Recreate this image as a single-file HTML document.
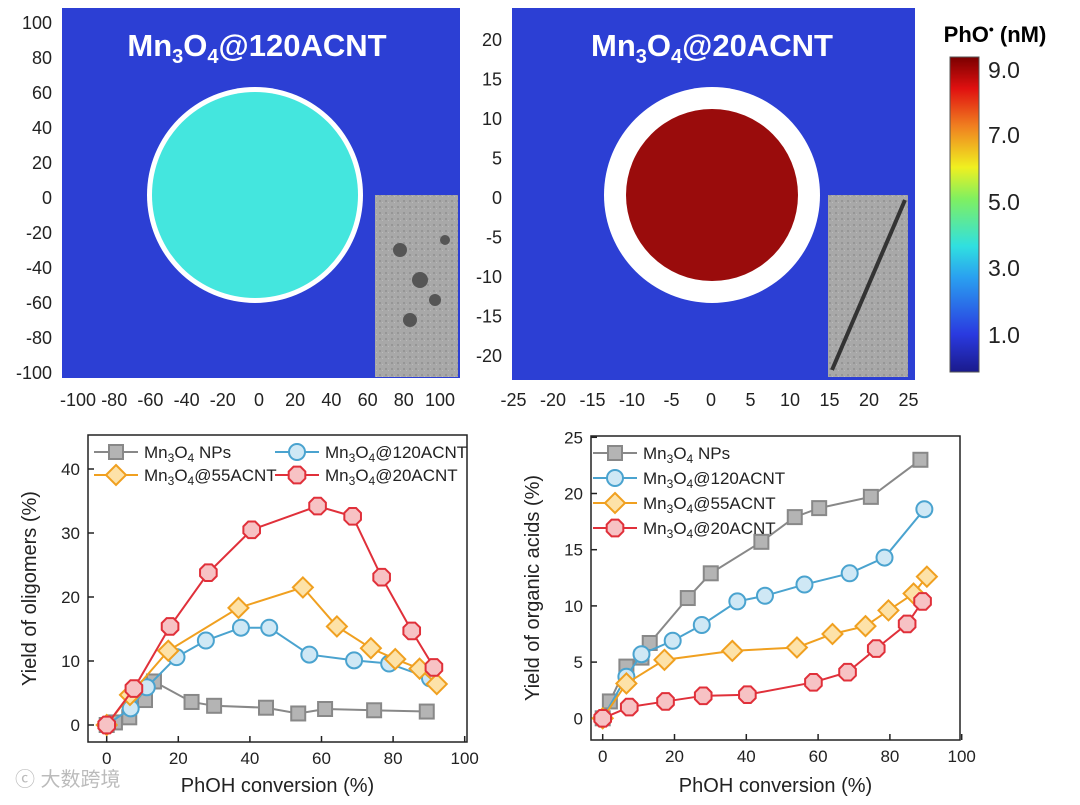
<!DOCTYPE html>
<html><head><meta charset="utf-8">
<style>
body{margin:0;background:#fff;width:1080px;height:800px;overflow:hidden;font-family:"Liberation Sans","Noto Sans CJK SC",sans-serif}
svg text{font-family:"Liberation Sans","Noto Sans CJK SC",sans-serif}
</style></head>
<body>
<svg id="fig" width="1080" height="800" viewBox="0 0 1080 800">
<defs>
<linearGradient id="jet" x1="0" y1="1" x2="0" y2="0">
<stop offset="0" stop-color="#1a1a8c"/><stop offset="0.12" stop-color="#2a3ae0"/><stop offset="0.3" stop-color="#2aa0f0"/><stop offset="0.4" stop-color="#30e0e0"/><stop offset="0.55" stop-color="#80f060"/><stop offset="0.65" stop-color="#f0f020"/><stop offset="0.78" stop-color="#f08020"/><stop offset="0.9" stop-color="#e01010"/><stop offset="1" stop-color="#7a0000"/>
</linearGradient>
<pattern id="tem" width="6" height="6" patternUnits="userSpaceOnUse"><rect width="6" height="6" fill="#a8a8a8"/><rect x="1" y="2" width="2" height="2" fill="#969696"/><rect x="4" y="4" width="1" height="1" fill="#bbb"/></pattern>
</defs>
<g>
<rect x="62" y="8" width="398" height="370" fill="#2c3fd4"/>
<circle cx="255" cy="195" r="108" fill="#fff"/>
<circle cx="255" cy="195" r="103" fill="#44e6de"/>
<rect x="375" y="195" width="83" height="182" fill="url(#tem)"/>
<g fill="#555"><circle cx="400" cy="250" r="7"/><circle cx="420" cy="280" r="8"/><circle cx="410" cy="320" r="7"/><circle cx="435" cy="300" r="6"/><circle cx="445" cy="240" r="5"/></g>
<text x="257" y="56" font-size="31" font-weight="bold" fill="#fff" text-anchor="middle">Mn<tspan font-size="20" dy="7">3</tspan><tspan dy="-7">O</tspan><tspan font-size="20" dy="7">4</tspan><tspan dy="-7">@120ACNT</tspan></text>
</g>
<g>
<rect x="512" y="8" width="403" height="372" fill="#2c3fd4"/>
<circle cx="712" cy="195" r="108" fill="#fff"/>
<circle cx="712" cy="195" r="86" fill="#9a0c0c"/>
<rect x="828" y="195" width="80" height="182" fill="url(#tem)"/>
<line x1="832" y1="370" x2="905" y2="200" stroke="#333" stroke-width="4"/>
<text x="712" y="56" font-size="31" font-weight="bold" fill="#fff" text-anchor="middle">Mn<tspan font-size="20" dy="7">3</tspan><tspan dy="-7">O</tspan><tspan font-size="20" dy="7">4</tspan><tspan dy="-7">@20ACNT</tspan></text>
</g>
<g>
<rect x="950" y="57" width="29" height="315" fill="url(#jet)" stroke="#555" stroke-width="1"/>
<text x="995" y="42" font-size="22" font-weight="bold" text-anchor="middle">PhO<tspan font-size="14" dy="-8">•</tspan><tspan dy="8"> (nM)</tspan></text>
<g font-size="23" fill="#222">
<text x="988" y="78">9.0</text><text x="988" y="143">7.0</text><text x="988" y="210">5.0</text><text x="988" y="276">3.0</text><text x="988" y="343">1.0</text>
</g>
</g>
<g id="topaxes" font-size="18" fill="#222"></g>
<g id="c1"></g>
<g id="c2"></g>
<text x="15" y="786" font-size="20" fill="#bbb">ⓒ 大数跨境</text>
</svg>
<script>
const leftX_NP=[0,2.3,6.3,10.7,13.2,23.7,30,44.5,53.5,61,74.7,89.4];
const leftY_NP=[0,0.4,1.2,3.9,6.8,3.6,3.0,2.7,1.8,2.5,2.3,2.1];
const leftX_120=[0,6.7,11.2,19.5,27.7,37.5,45.4,56.6,69.1,78.9,90.3];
const leftY_120=[0,2.6,5.9,10.6,13.2,15.2,15.2,11.0,10.1,9.6,7.3];
const leftX_55=[0,6.5,17.2,36.8,54.8,64.3,73.8,80.6,87.4,92.2];
const leftY_55=[0,4.7,11.6,18.3,21.5,15.4,12.0,10.3,8.8,6.4];
const leftX_20=[0,7.6,17.7,28.4,40.5,58.9,68.7,76.8,85.2,91.4];
const leftY_20=[0,5.7,15.4,23.8,30.5,34.2,32.6,23.1,14.7,9.0];
const rightX_NP=[0,2.0,6.6,10.8,13.1,23.7,30.1,44.2,53.5,60.3,74.7,88.5];
const rightY_NP=[0,1.5,4.6,5.4,6.7,10.7,12.9,15.7,17.9,18.7,19.7,23.0];
const rightX_120=[0,6.6,10.8,19.5,27.6,37.5,45.2,56.2,68.8,78.5,89.6];
const rightY_120=[0,3.7,5.7,6.9,8.3,10.4,10.9,11.9,12.9,14.3,18.6];
const rightX_55=[0,6.6,17.2,36.1,54.1,64,73.2,79.6,86.6,90.3];
const rightY_55=[0,3.1,5.2,6.0,6.3,7.5,8.2,9.6,11.1,12.6];
const rightX_20=[0,7.4,17.5,28,40.3,58.7,68.2,76.2,84.8,89.1];
const rightY_20=[0,1.0,1.5,2.0,2.1,3.2,4.1,6.2,8.4,10.4];
const xTicks=[0,20,40,60,80,100];
const leftYTicks=[0,10,20,30,40];
const rightYTicks=[0,5,10,15,20,25];
const mapTicks1=[100,80,60,40,20,0,-20,-40,-60,-80,-100];
const mapXTicks1=[-100,-80,-60,-40,-20,0,20,40,60,80,100];
const mapTicks2=[20,15,10,5,0,-5,-10,-15,-20];
const mapXTicks2=[-25,-20,-15,-10,-5,0,5,10,15,20,25];

const NS="http://www.w3.org/2000/svg";
function mk(p,tag,at,txt){const e=document.createElementNS(NS,tag);for(const k in at)e.setAttribute(k,at[k]);if(txt!==undefined)e.textContent=txt;p.appendChild(e);return e;}

const ta=document.getElementById('topaxes');
mapTicks1.forEach(v=>{const t=mk(ta,'text',{x:52,y:198-v*1.75+6,'text-anchor':'end'},v);

});
mapXTicks1.forEach(v=>{const t=mk(ta,'text',{x:259+v*1.81,y:406,'text-anchor':'middle'},v);

});
mapTicks2.forEach(v=>{const t=mk(ta,'text',{x:502,y:198-v*7.9+6,'text-anchor':'end'},v);

});
mapXTicks2.forEach(v=>{const t=mk(ta,'text',{x:711+v*7.9,y:406,'text-anchor':'middle'},v);

});

const styles={
 np:{stroke:'#888',fill:'#b4b4b4',shape:'sq'},
 a120:{stroke:'#4aa3cf',fill:'#cfe8f5',shape:'ci'},
 a55:{stroke:'#f0a020',fill:'#fde2a8',shape:'di'},
 a20:{stroke:'#e0303a',fill:'#f7c2c4',shape:'oc'}};
function marker(g,cx,cy,st,name){let e;
 if(st.shape==='sq')e=mk(g,'rect',{x:cx-7,y:cy-7,width:14,height:14});
 else if(st.shape==='ci')e=mk(g,'circle',{cx:cx,cy:cy,r:8});
 else if(st.shape==='di')e=mk(g,'polygon',{points:`${cx},${cy-10} ${cx+10},${cy} ${cx},${cy+10} ${cx-10},${cy}`});
 else{let p=[];for(let i=0;i<8;i++){const a=Math.PI/8+i*Math.PI/4;p.push((cx+9*Math.cos(a))+','+(cy+9*Math.sin(a)));}e=mk(g,'polygon',{points:p.join(' ')});}
 e.setAttribute('fill',st.fill);e.setAttribute('stroke',st.stroke);e.setAttribute('stroke-width','2');
 
 
 return e;}

function chart(gid,box,xmax,ymin,ymax,yTicks,series,ylabel,legend){
 const g=document.getElementById(gid);
 const sx=v=>box.x0+(v-0)/xmax*box.w0; const sy=v=>box.y0-(v-0)/ymax*box.h0;
 const fr=mk(g,'rect',{x:box.l,y:box.t,width:box.r-box.l,height:box.b-box.t,fill:'none',stroke:'#222','stroke-width':1.5});
 
 
 xTicks.forEach(v=>{mk(g,'line',{x1:sx(v),x2:sx(v),y1:box.b,y2:box.b-6,stroke:'#222','stroke-width':1.5});
  const t=mk(g,'text',{x:sx(v),y:box.b+22,'font-size':17,'text-anchor':'middle',fill:'#222'},v);
  
  });
 yTicks.forEach(v=>{mk(g,'line',{x1:box.l,x2:box.l+6,y1:sy(v),y2:sy(v),stroke:'#222','stroke-width':1.5});
  const t=mk(g,'text',{x:box.l-8,y:sy(v)+6,'font-size':17,'text-anchor':'end',fill:'#222'},v);
  
  });
 const xl=mk(g,'text',{x:(box.l+box.r)/2,y:792,'font-size':20,'text-anchor':'middle',fill:'#222'},'PhOH conversion (%)');
 
 
 const yx=box.l-52, yy=(box.t+box.b)/2;
 const yl=mk(g,'text',{x:yx,y:yy,'font-size':20,'text-anchor':'middle',fill:'#222',transform:`rotate(-90 ${yx} ${yy})`},ylabel);
 
 
 series.forEach(s=>{const st=styles[s.k];
  const pts=s.x.map((v,i)=>sx(v)+','+sy(s.y[i])).join(' ');
  const pl=mk(g,'polyline',{points:pts,fill:'none',stroke:st.stroke,'stroke-width':2});
  
  
  s.x.forEach((v,i)=>marker(g,sx(v),sy(s.y[i]),st,'point-'+s.k));});
 legend.forEach(L=>{const st=styles[L.k];
  mk(g,'line',{x1:L.x,x2:L.x+44,y1:L.y,y2:L.y,stroke:st.stroke,'stroke-width':2});
  marker(g,L.x+22,L.y,st,'legend-marker-'+L.k);
  const t=mk(g,'text',{x:L.x+50,y:L.y+6,'font-size':17,fill:'#222'});
  
  
  t.innerHTML='Mn<tspan font-size="12" dy="4">3</tspan><tspan dy="-4">O</tspan><tspan font-size="12" dy="4">4</tspan><tspan dy="-4">'+L.t+'</tspan>';});
}
chart('c1',{l:88,r:467,t:435,b:742,x0:106.7,w0:358,y0:725,h0:256},100,0,40,leftYTicks,
 [{k:'np',x:leftX_NP,y:leftY_NP},{k:'a120',x:leftX_120,y:leftY_120},{k:'a55',x:leftX_55,y:leftY_55},{k:'a20',x:leftX_20,y:leftY_20}],
 'Yield of oligomers (%)',
 [{k:'np',x:94,y:452,t:' NPs'},{k:'a120',x:275,y:452,t:'@120ACNT'},{k:'a55',x:94,y:475,t:'@55ACNT'},{k:'a20',x:275,y:475,t:'@20ACNT'}]);
chart('c2',{l:591,r:960,t:436,b:740,x0:602.7,w0:359,y0:718.3,h0:281},100,0,25,rightYTicks,
 [{k:'np',x:rightX_NP,y:rightY_NP},{k:'a120',x:rightX_120,y:rightY_120},{k:'a55',x:rightX_55,y:rightY_55},{k:'a20',x:rightX_20,y:rightY_20}],
 'Yield of organic acids (%)',
 [{k:'np',x:593,y:453,t:' NPs'},{k:'a120',x:593,y:478,t:'@120ACNT'},{k:'a55',x:593,y:503,t:'@55ACNT'},{k:'a20',x:593,y:528,t:'@20ACNT'}]);
</script>
</body></html>
